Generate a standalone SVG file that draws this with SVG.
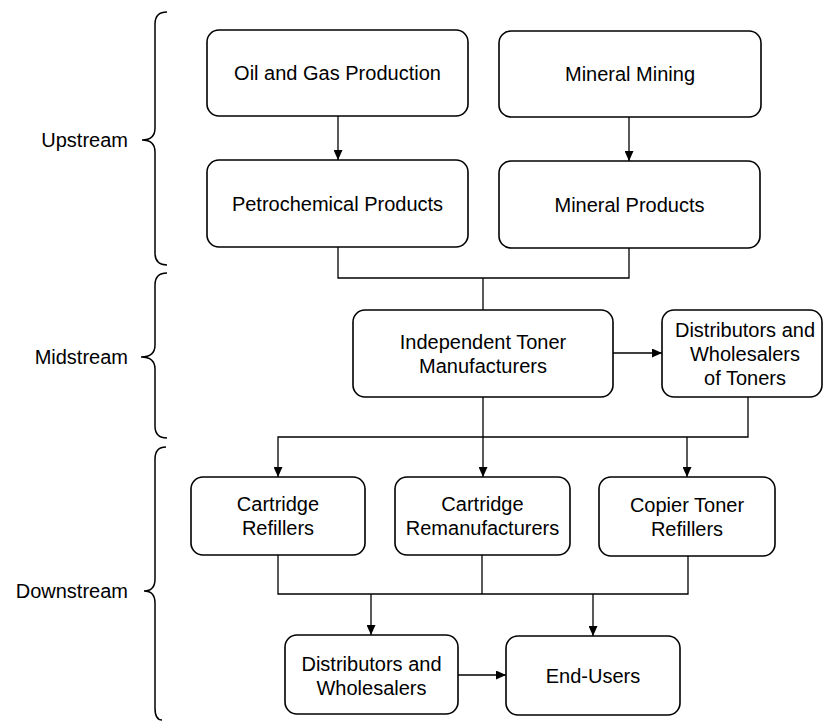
<svg xmlns="http://www.w3.org/2000/svg" width="826" height="722" viewBox="0 0 826 722">
<defs>
<style>
.box{fill:#fff;stroke:#000;stroke-width:1.6}
.t{font-family:"Liberation Sans",Arial,sans-serif;font-size:20px;fill:#000;text-anchor:middle}
.lbl{font-family:"Liberation Sans",Arial,sans-serif;font-size:20px;fill:#000;text-anchor:end}
.c{fill:none;stroke:#000;stroke-width:1.3}
.br{fill:none;stroke:#000;stroke-width:1.5}
</style>
<marker id="ah" markerUnits="userSpaceOnUse" markerWidth="10" markerHeight="9" refX="10" refY="4.5" orient="auto">
<path d="M0,0 L10,4.5 L0,9 z" fill="#000"/>
</marker>
</defs>
<rect width="826" height="722" fill="#fff"/>
<g id="braces">
<path class="br" d="M167 12 Q155 12 155 24 L155 128 Q155 140 142 140 Q155 140 155 152 L155 253 Q155 265 167 265"/>
<path class="br" d="M167 273 Q155 273 155 285 L155 345 Q155 357 141 357 Q155 357 155 369 L155 426 Q155 438 167 438"/>
<path class="br" d="M166 447 Q155 447 155 459 L155 579 Q155 591 144 591 Q155 591 155 603 L155 708 Q155 720 162 720"/>
<text class="lbl" x="128" y="147">Upstream</text>
<text class="lbl" x="128" y="364">Midstream</text>
<text class="lbl" x="128" y="598">Downstream</text>
</g>
<g id="connectors">
<path class="c" d="M338 116 V160" marker-end="url(#ah)"/>
<path class="c" d="M629 117 V161" marker-end="url(#ah)"/>
<path class="c" d="M338 247 V278 H629 V248"/>
<path class="c" d="M483 278 V310"/>
<path class="c" d="M613 353 H662" marker-end="url(#ah)"/>
<path class="c" d="M483 397 V477" marker-end="url(#ah)"/>
<path class="c" d="M748 397 V437 H278 V477" marker-end="url(#ah)"/>
<path class="c" d="M687 437 V477" marker-end="url(#ah)"/>
<path class="c" d="M278 555 V594 H688 V556"/>
<path class="c" d="M482 555 V594"/>
<path class="c" d="M371 594 V635" marker-end="url(#ah)"/>
<path class="c" d="M593 594 V636" marker-end="url(#ah)"/>
<path class="c" d="M458 675 H506" marker-end="url(#ah)"/>
</g>
<g id="oil"><rect class="box" x="207" y="30" width="261" height="86" rx="12"/><text class="t" x="337.5" y="80">Oil and Gas Production</text></g>
<g id="mining"><rect class="box" x="499" y="31" width="262" height="86" rx="12"/><text class="t" x="630" y="81">Mineral Mining</text></g>
<g id="petro"><rect class="box" x="207" y="160" width="261" height="87" rx="12"/><text class="t" x="337.5" y="211">Petrochemical Products</text></g>
<g id="mineralprod"><rect class="box" x="499" y="161" width="261" height="87" rx="12"/><text class="t" x="629.5" y="212">Mineral Products</text></g>
<g id="itm"><rect class="box" x="353" y="310" width="260" height="87" rx="12"/><text class="t" x="483" y="349">Independent Toner</text><text class="t" x="483" y="373">Manufacturers</text></g>
<g id="distToners"><rect class="box" x="662" y="310" width="160" height="87" rx="12"/><text class="t" x="745" y="337">Distributors and</text><text class="t" x="745" y="361">Wholesalers</text><text class="t" x="745" y="385">of Toners</text></g>
<g id="refillers"><rect class="box" x="191" y="477" width="174" height="78" rx="12"/><text class="t" x="278" y="511">Cartridge</text><text class="t" x="278" y="535">Refillers</text></g>
<g id="reman"><rect class="box" x="395" y="477" width="175" height="78" rx="12"/><text class="t" x="482.5" y="511">Cartridge</text><text class="t" x="482.5" y="535">Remanufacturers</text></g>
<g id="copier"><rect class="box" x="599" y="477" width="176" height="79" rx="12"/><text class="t" x="687" y="512">Copier Toner</text><text class="t" x="687" y="536">Refillers</text></g>
<g id="distWh"><rect class="box" x="285" y="635" width="173" height="79" rx="12"/><text class="t" x="371.5" y="671">Distributors and</text><text class="t" x="371.5" y="695">Wholesalers</text></g>
<g id="endusers"><rect class="box" x="506" y="636" width="174" height="79" rx="12"/><text class="t" x="593" y="683">End-Users</text></g>
</svg>
